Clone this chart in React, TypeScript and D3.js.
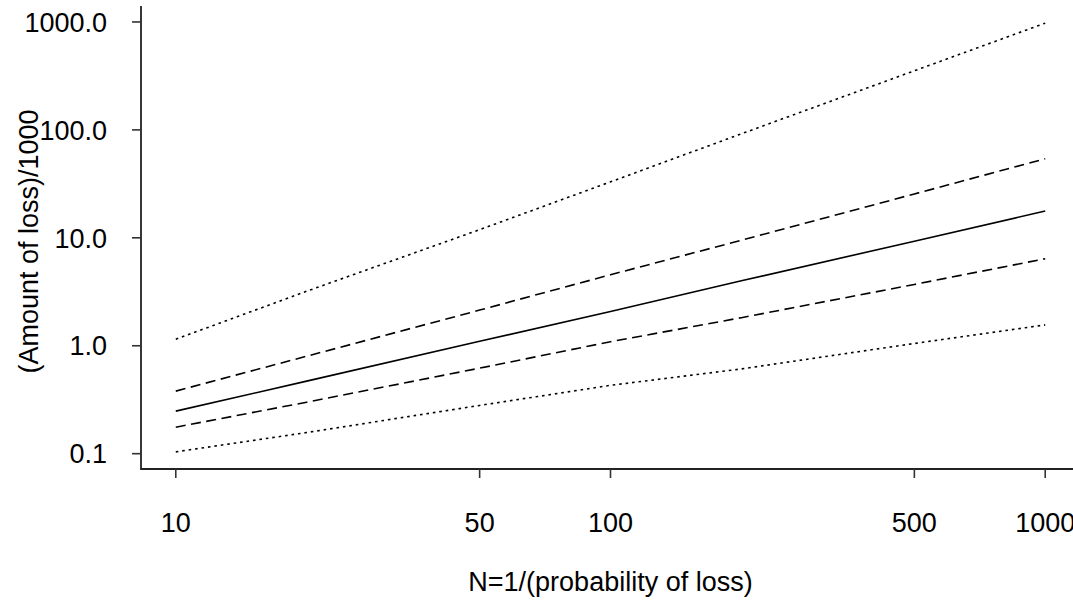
import React from "react";
import * as d3 from "d3";

const N = [10, 20, 50, 100, 200, 500, 1000];
const upperDotted = [1.15, 3.2, 11.9, 33, 92, 353, 975];
const upperDashed = [0.38, 0.8, 2.14, 4.55, 9.5, 25.5, 54];
const central = [0.248, 0.47, 1.1, 2.08, 4.0, 9.3, 17.7];
const lowerDashed = [0.176, 0.3, 0.62, 1.09, 1.82, 3.7, 6.4];
const lowerDotted = [0.104, 0.157, 0.28, 0.43, 0.61, 1.05, 1.56];

const xTicks = [10, 50, 100, 500, 1000];
const xTickLabels = ["10", "50", "100", "500", "1000"];
const yTicks = [0.1, 1, 10, 100, 1000];
const yTickLabels = ["0.1", "1.0", "10.0", "100.0", "1000.0"];

const xTitle = "N=1/(probability of loss)";
const yTitle = "(Amount of loss)/1000";

const W = 1073;
const H = 604;
const plot = { left: 141, right: 1080, top: 6, bottom: 469 };
const FONT = "'Liberation Sans', Arial, Helvetica, sans-serif";

function logExtended(vals: number[]): [number, number] {
  const [lo, hi] = d3.extent(vals) as [number, number];
  const a = Math.log10(lo);
  const b = Math.log10(hi);
  const pad = (b - a) * 0.04;
  return [Math.pow(10, a - pad), Math.pow(10, b + pad)];
}

export default function App() {
  const allY = [...upperDotted, ...upperDashed, ...central, ...lowerDashed, ...lowerDotted];
  const x = d3.scaleLog().domain(logExtended(N)).range([plot.left, plot.right]);
  const y = d3.scaleLog().domain(logExtended(allY)).range([plot.bottom, plot.top]);

  const line = d3
    .line<[number, number]>()
    .x((d) => x(d[0]))
    .y((d) => y(d[1]));

  const series = [
    { v: upperDotted, dash: "2.6,3.9" },
    { v: upperDashed, dash: "10,5.5" },
    { v: central, dash: null },
    { v: lowerDashed, dash: "10,5.5" },
    { v: lowerDotted, dash: "2.6,3.9" },
  ];

  const cx = (plot.left + plot.right) / 2;
  const cy = (plot.top + plot.bottom) / 2;

  return (
    <svg
      width={W}
      height={H}
      style={{ position: "absolute", left: 0, top: 0, background: "#fff" }}
      fontFamily={FONT}
    >
      <rect x={0} y={0} width={W} height={H} fill="#fff" />
      {series.map((s, i) => (
        <path
          key={i}
          d={line(N.map((n, j) => [n, s.v[j]] as [number, number])) || ""}
          fill="none"
          stroke="#000"
          strokeWidth={1.6}
          strokeDasharray={s.dash || undefined}
        />
      ))}
      {/* L-shaped box */}
      <path
        d={`M${plot.left},${plot.top}V${plot.bottom}H${plot.right}`}
        fill="none"
        stroke="#222"
        strokeWidth={1.8}
      />
      {/* y ticks */}
      {yTicks.map((t, i) => (
        <g key={"y" + i}>
          <line x1={plot.left - 9} x2={plot.left} y1={y(t)} y2={y(t)} stroke="#333" strokeWidth={1.6} />
          <text
            x={107}
            y={y(t)}
            dy="0.36em"
            textAnchor="end"
            fontSize={27}
            fill="#000"
          >
            {yTickLabels[i]}
          </text>
        </g>
      ))}
      {/* x ticks */}
      {xTicks.map((t, i) => (
        <g key={"x" + i}>
          <line x1={x(t)} x2={x(t)} y1={plot.bottom} y2={plot.bottom + 9} stroke="#333" strokeWidth={1.6} />
          <text x={x(t)} y={532} textAnchor="middle" fontSize={27} fill="#000">
            {xTickLabels[i]}
          </text>
        </g>
      ))}
      <text x={cx} y={591} textAnchor="middle" fontSize={27} fill="#000">
        {xTitle}
      </text>
      <text
        transform={`translate(38,${cy + 4}) rotate(-90)`}
        textAnchor="middle"
        fontSize={27}
        fill="#000"
      >
        {yTitle}
      </text>
    </svg>
  );
}
